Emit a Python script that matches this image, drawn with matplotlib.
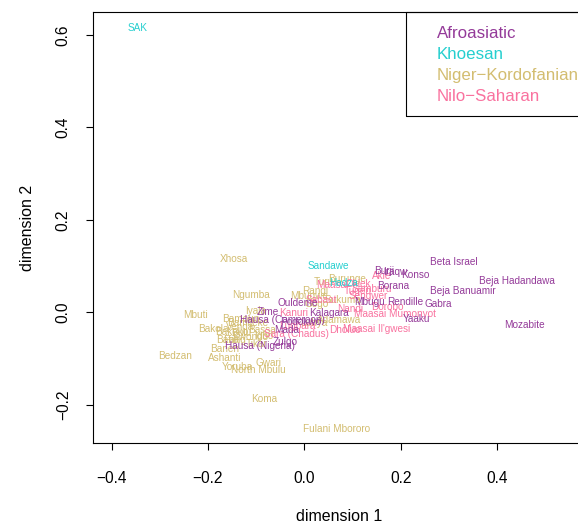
import matplotlib.pyplot as plt
from matplotlib.patches import Rectangle

afro_names = ['Beta Israel', 'Beja Hadandawa', 'Beja Banuamir', 'Mozabite', 'Konso', 'Burji', 'Iraqw',
              'Borana', 'Mbugu', 'Rendille', 'Gabra', 'Yaaku', 'Ouldeme', 'Zime', 'Hausa (Cameroon)',
              'Kalagara', 'Podokwo', 'Mada', 'Zulgo', 'Hausa (Nigeria)']
afro_x = [0.311, 0.441, 0.329, 0.456, 0.230, 0.165, 0.188, 0.184, 0.136, 0.209, 0.277, 0.232, -0.013, -0.075,
          -0.046, 0.052, -0.007, -0.036, -0.040, -0.092]
afro_y = [0.109, 0.068, 0.046, -0.028, 0.081, 0.089, 0.087, 0.057, 0.022, 0.022, 0.018, -0.014, 0.020, 0.001,
          -0.017, -0.001, -0.021, -0.038, -0.064, -0.073]

khoe_names = ['SAK', 'Sandawe', 'Hadza']
khoe_x = [-0.345, 0.049, 0.082]
khoe_y = [0.615, 0.100, 0.063]

nk_names = ['Xhosa', 'Ngumba', 'Mbuti', 'Bakola', 'Bedzan', 'Ashanti', 'Yoruba', 'Gwari', 'North Mbulu',
            'Koma', 'Fulani Mbororo', 'Burunge', 'Turu', 'Rangi', 'Mbugwe', 'Sukuma', 'Gogo', 'Adamawa',
            'Iyala', 'Bamoun', 'Venda', 'Bakoko', 'Bulu', 'Ewondo', 'Fang', 'Bassa', 'Bafia', 'Banen',
            'Bamileke', 'Tikar', 'Igbo', 'Luhya']
nk_x = [-0.146, -0.110, -0.225, -0.189, -0.268, -0.165, -0.138, -0.075, -0.096, -0.083, 0.066, 0.088, 0.041,
        0.022, 0.010, 0.080, 0.026, 0.072, -0.102, -0.131, -0.133, -0.150, -0.130, -0.112, -0.145, -0.088,
        -0.160, -0.165, -0.118, -0.100, -0.085, 0.020]
nk_y = [0.115, 0.037, -0.006, -0.036, -0.094, -0.099, -0.118, -0.110, -0.125, -0.188, -0.252, 0.072, 0.066,
        0.046, 0.035, 0.027, 0.018, -0.017, 0.003, -0.015, -0.032, -0.042, -0.045, -0.053, -0.060, -0.038,
        -0.060, -0.080, -0.022, -0.068, -0.050, -0.024]

ns_names = ['Akie', 'Maasai', 'Okiek', 'Tugen', 'Samburu', 'Sengwer', 'Sabaot', 'Nandi', 'Kanuri', 'Dholuo',
            "Maasai Il'gwesi", 'Maasai Mumonyot', 'Dorobo', 'Sara (Chadus)', 'Lugbara']
ns_x = [0.161, 0.059, 0.111, 0.111, 0.140, 0.132, 0.036, 0.095, -0.023, 0.085, 0.151, 0.188, 0.173, -0.017,
        -0.015]
ns_y = [0.078, 0.059, 0.061, 0.046, 0.050, 0.035, 0.026, 0.007, -0.002, -0.038, -0.036, -0.004, 0.011, -0.047,
        -0.030]

families = ['Afroasiatic', 'Khoesan', 'Niger−Kordofanian', 'Nilo−Saharan']
colors = ['#943a99', '#26cfcf', '#d3bd70', '#f9729f']

plt.rcParams['font.family'] = ['Liberation Sans', 'DejaVu Sans']
fig = plt.figure(figsize=(5.78, 5.25), dpi=100)
ax = fig.add_axes([0.161, 0.156, 0.851, 0.821])

groups = [(afro_names, afro_x, afro_y), (khoe_names, khoe_x, khoe_y),
          (nk_names, nk_x, nk_y), (ns_names, ns_x, ns_y)]
# draw niger-kordofanian first so the others sit on top like in the original
for gi in [2, 3, 0, 1]:
    names, xs, ys = groups[gi]
    for n, x, y in zip(names, xs, ys):
        ax.text(x, y, n, color=colors[gi], fontsize=7.2, ha='center', va='center')

ax.set_xlim(-0.4384, 0.5824)
ax.set_ylim(-0.2826, 0.6493)
ax.set_xticks([-0.4, -0.2, 0.0, 0.2, 0.4])
ax.set_yticks([-0.2, 0.0, 0.2, 0.4, 0.6])
ax.set_xticklabels(['−0.4', '−0.2', '0.0', '0.2', '0.4'])
ax.set_yticklabels(['−0.2', '0.0', '0.2', '0.4', '0.6'], rotation=90, va='center')
ax.tick_params(direction='out', length=5, width=0.8, labelsize=11.2, colors='black')
ax.tick_params(axis='x', pad=15)
ax.tick_params(axis='y', pad=11)
for s in ax.spines.values():
    s.set_linewidth(0.8)
ax.set_xlabel('dimension 1', fontsize=11.5, labelpad=17)
ax.set_ylabel('dimension 2', fontsize=11.5, labelpad=15)

# legend box (top right, as in R's legend(..., text.col=...))
fig.patches.append(Rectangle((406 / 578, 1 - 116 / 525), 200 / 578, 104 / 525, transform=fig.transFigure,
                             fill=False, edgecolor='black', linewidth=0.8))
for i, (f, c) in enumerate(zip(families, colors)):
    fig.text(437 / 578, 1 - (33 + 21.3 * i) / 525, f, color=c, fontsize=12.2, ha='left', va='center')

fig.savefig('out.png', dpi=100)
